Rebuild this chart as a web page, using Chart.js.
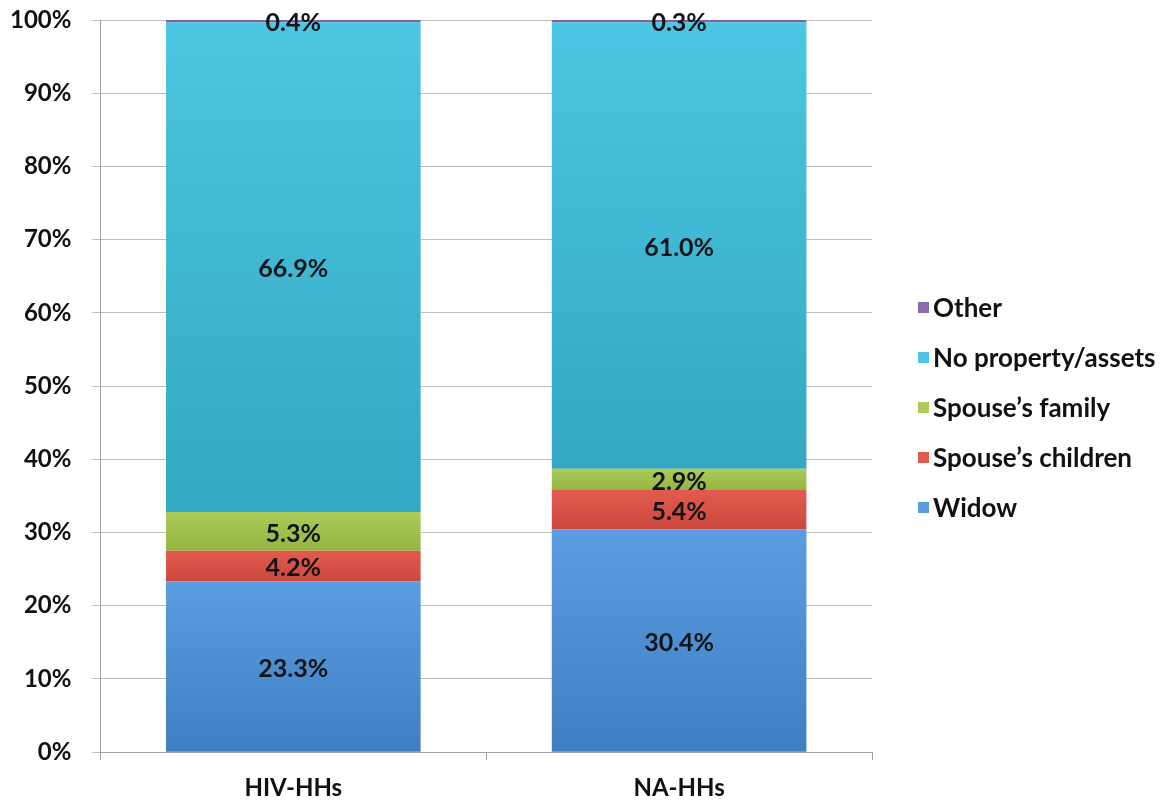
<!DOCTYPE html>
<html>
<head>
<meta charset="utf-8">
<script src="https://cdn.jsdelivr.net/npm/chart.js@4"></script>
<style>
  html, body { margin: 0; padding: 0; background: #fff; }
  #wrap { width: 1165px; height: 804px; }
</style>
</head>
<body>
<div id="wrap"><canvas id="shareChart" width="1165" height="804"></canvas></div>
<script>
const categories = ["HIV-HHs", "NA-HHs"];
const widow = [23.3, 30.4];
const spouseChildren = [4.2, 5.4];
const spouseFamily = [5.3, 2.9];
const noProperty = [66.9, 61.0];
const other = [0.4, 0.3];
const yTicks = [0, 10, 20, 30, 40, 50, 60, 70, 80, 90, 100];

const FONT = "Lato, 'Open Sans', sans-serif";

// [top colour, bottom colour] for each segment
const shades = {
  widow: ["#5a9de0", "#3f7fc1"],
  children: ["#e35b4f", "#ca483e"],
  family: ["#abcb5a", "#95b540"],
  none: ["#4cc6e2", "#33a7c3"],
  other: ["#8a6db0", "#6f5494"],
};

const seriesList = [widow, spouseChildren, spouseFamily, noProperty, other];

function segmentGradient(key, dsIndex) {
  return (context) => {
    const chart = context.chart;
    const yScale = chart.scales.y;
    if (!yScale || context.dataIndex === undefined) return shades[key][0];
    let start = 0;
    for (let i = 0; i < dsIndex; i++) start += seriesList[i][context.dataIndex];
    const end = start + seriesList[dsIndex][context.dataIndex];
    const yTop = yScale.getPixelForValue(Math.min(end, 100));
    const yBottom = yScale.getPixelForValue(start);
    if (!isFinite(yTop) || !isFinite(yBottom) || yTop === yBottom) return shades[key][0];
    const g = chart.ctx.createLinearGradient(0, yTop, 0, yBottom);
    g.addColorStop(0, shades[key][0]);
    g.addColorStop(1, shades[key][1]);
    return g;
  };
}

// draw the value in the middle of every segment
const segmentLabels = {
  id: "segmentLabels",
  afterDatasetsDraw(chart) {
    const ctx = chart.ctx;
    ctx.save();
    ctx.font = "bold 25px " + FONT;
    ctx.fillStyle = "#121418";
    ctx.textAlign = "center";
    ctx.textBaseline = "middle";
    chart.data.datasets.forEach((ds, i) => {
      const meta = chart.getDatasetMeta(i);
      meta.data.forEach((bar, j) => {
        const top = Math.max(bar.y, chart.chartArea.top);
        const yMid = (top + bar.base) / 2;
        ctx.fillText(ds.data[j].toFixed(1) + "%", bar.x, yMid + 2);
      });
    });
    ctx.restore();
  },
};

// legend on the right, last series on top
const sideLegend = {
  id: "sideLegend",
  afterDraw(chart) {
    const ctx = chart.ctx;
    const area = chart.chartArea;
    const items = chart.data.datasets.map((ds, i) => ({
      text: ds.label,
      color: Object.values(shades)[i][0],
    })).reverse();
    const step = 50;
    const boxX = area.right + 46;
    let y = chart.height / 2 + 6 - step * (items.length - 1) / 2;
    ctx.save();
    ctx.font = "bold 26px " + FONT;
    ctx.textBaseline = "middle";
    ctx.textAlign = "left";
    items.forEach((item) => {
      ctx.fillStyle = item.color;
      ctx.fillRect(boxX, y - 6, 11, 11);
      ctx.fillStyle = "#111";
      ctx.fillText(item.text, boxX + 15, y + 1);
      y += step;
    });
    ctx.restore();
  },
};

const chart = new Chart(document.getElementById("shareChart").getContext("2d"), {
  type: "bar",
  data: {
    labels: categories,
    datasets: [
      { label: "Widow", data: widow, backgroundColor: segmentGradient("widow", 0) },
      { label: "Spouse\u2019s children", data: spouseChildren, backgroundColor: segmentGradient("children", 1) },
      { label: "Spouse\u2019s family", data: spouseFamily, backgroundColor: segmentGradient("family", 2) },
      { label: "No property/assets", data: noProperty, backgroundColor: segmentGradient("none", 3) },
      { label: "Other", data: other, backgroundColor: segmentGradient("other", 4) },
    ],
  },
  options: {
    responsive: false,
    animation: false,
    layout: { padding: { top: 20, left: -11, right: 293, bottom: -13 } },
    datasets: {
      bar: { categoryPercentage: 1, barPercentage: 0.66, borderWidth: 0 },
    },
    scales: {
      x: {
        stacked: true,
        grid: {
          drawOnChartArea: false,
          drawTicks: true,
          tickLength: 8,
          color: "#a0a0a0",
        },
        border: { color: "#a0a0a0" },
        ticks: {
          color: "#111",
          padding: 14,
          font: { family: FONT, size: 24, weight: "bold" },
        },
      },
      y: {
        stacked: true,
        min: 0,
        max: 100,
        afterBuildTicks: (axis) => {
          axis.ticks = yTicks.map((v) => ({ value: v }));
        },
        afterFit: (axis) => {
          axis.paddingTop = 0;
          axis.paddingBottom = 0;
        },
        grid: { color: "#bdbdbd", tickLength: 8 },
        border: { color: "#a0a0a0" },
        ticks: {
          color: "#111",
          padding: 21,
          font: { family: FONT, size: 24, weight: "bold" },
          callback: (v) => v + "%",
        },
      },
    },
    plugins: {
      legend: { display: false },
      tooltip: { enabled: false },
    },
  },
  plugins: [segmentLabels, sideLegend],
});
</script>
</body>
</html>
